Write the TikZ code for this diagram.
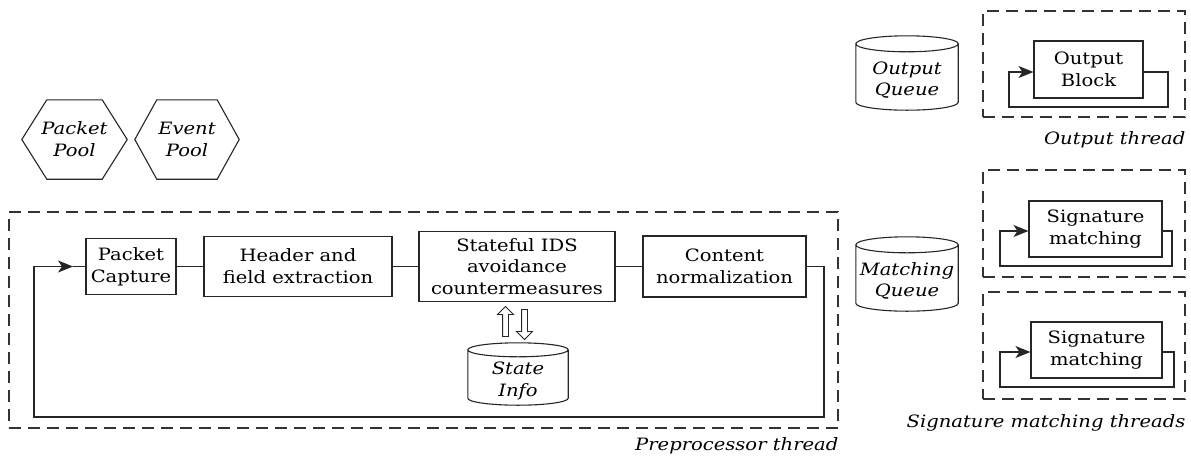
\documentclass[tikz,border=0pt]{standalone}
\usepackage{fontspec}
\setmainfont{DejaVu Serif}[FakeStretch=1.15]
\usetikzlibrary{arrows.meta,calc,shapes.arrows}

\tikzset{
  x=1pt, y=1pt,
  every node/.style={font=\fontsize{17}{21.7}\selectfont},
  wire/.style={line width=1.1pt, draw=black!85},
  blk/.style={draw=black!85, line width=1.1pt, inner sep=0pt, align=center},
  thread/.style={draw=black!80, line width=1.1pt, dash pattern=on 12pt off 7pt, inner sep=0pt},
  ital/.style={font=\fontsize{17}{21.7}\selectfont\itshape, align=center, inner sep=0pt},
  shell/.style={inner sep=0pt},
  hollow/.style={single arrow, draw=black!85, line width=0.9pt, fill=white,
    minimum width=15pt, minimum height=30pt, single arrow head extend=5pt,
    single arrow head indent=0pt, inner sep=2.5pt},
  tipfill/.style={-{Stealth[length=15pt,width=12pt,inset=4pt]}},
}

% outline of a storage drum drawn round a named node
\newcommand\drumoutline[2]{%
  \draw[wire] let \p1=(#1.north west), \p2=(#1.south east), \n1={(\x2-\x1)/2} in
    (\x1,{\y1-#2}) -- (\x1,{\y2+#2})
    arc[start angle=180, end angle=360, x radius=\n1, y radius=#2]
    -- (\x2,{\y1-#2})
    arc[start angle=0, end angle=360, x radius=\n1, y radius=#2];}

% outline of a flat-topped hexagon drawn round a named node
\newcommand\hexoutline[2]{%
  \draw[wire] (#1.west) -- ([xshift=#2]#1.north west) -- ([xshift=-#2]#1.north east)
    -- (#1.east) -- ([xshift=-#2]#1.south east) -- ([xshift=#2]#1.south west) -- cycle;}

\begin{document}
\begin{tikzpicture}
\useasboundingbox (0,0) rectangle (1191,-459);

% pools
\node[shell, minimum width=105pt, minimum height=79pt] (ppool) at (74.5,-139.5) {};
\hexoutline{ppool}{25pt}
\node[ital] (ppool-t) at (ppool.center) {Packet\\Pool};
\node[shell, minimum width=104pt, minimum height=79pt] (epool) at (187,-139.5) {};
\hexoutline{epool}{22pt}
\node[ital] (epool-t) at (epool.center) {Event\\Pool};

% preprocessor thread
\node[thread, minimum width=829pt, minimum height=216pt] (pp) at (423.5,-320) {};
\node[ital, anchor=east] (pp-l) at ([yshift=-17pt]pp.south east) {Preprocessor thread};

\node[blk, minimum width=90pt, minimum height=56pt] (cap) at (131,-266.5) {Packet\\Capture};
\node[blk, minimum width=188pt, minimum height=60pt] (hdr) at (298,-266.5) {Header and\\field extraction};
\node[blk, minimum width=196pt, minimum height=70pt] (ids) at (517,-266.5) {Stateful IDS\\avoidance\\countermeasures};
\node[blk, minimum width=163pt, minimum height=61pt] (norm) at (724.5,-266.5) {Content\\normalization};

\draw[wire] (cap.east) -- (hdr.west);
\draw[wire] (hdr.east) -- (ids.west);
\draw[wire] (ids.east) -- (norm.west);

\coordinate (pp-r) at (824,-417);
\coordinate (pp-l0) at (34,-417);
\coordinate (pp-in) at (73,-266.5);
\draw[wire, tipfill] (norm.east) -| (pp-r) -- (pp-l0) |- (pp-in);
\draw[wire] (pp-in) -- (cap.west);

% state store
\node[shell, minimum width=100pt, minimum height=62pt] (state) at (518,-374) {};
\drumoutline{state}{7pt}
\node[ital] (state-t) at ([yshift=-7pt]state.center) {State\\Info};

\node[hollow, shape border rotate=90] (up) at (505.5,-323) {};
\node[hollow, shape border rotate=270] (down) at (524.5,-323) {};

% queues
\node[shell, minimum width=102pt, minimum height=74pt] (oq) at (907,-73) {};
\drumoutline{oq}{8pt}
\node[ital] (oq-t) at ([yshift=-7pt]oq.center) {Output\\Queue};
\node[shell, minimum width=102pt, minimum height=74pt] (mq) at (907,-274) {};
\drumoutline{mq}{8pt}
\node[ital] (mq-t) at ([yshift=-7pt]mq.center) {Matching\\Queue};

% output thread
\node[thread, minimum width=202pt, minimum height=106pt] (ot) at (1084,-64) {};
\node[ital, anchor=east] (ot-l) at ([yshift=-22pt]ot.south east) {Output thread};
\node[blk, minimum width=109pt, minimum height=57pt] (ob) at (1088.5,-69.5) {Output\\Block};
\coordinate (ob-r) at (1168,-107);
\coordinate (ob-l) at (1009,-107);
\draw[wire, tipfill] ([yshift=-2.5pt]ob.east) -| (ob-r) -- (ob-l) |- ([yshift=-2.5pt]ob.west);

% signature matching threads
\node[thread, minimum width=202pt, minimum height=107pt] (st1) at (1084,-223.5) {};
\node[blk, minimum width=133pt, minimum height=56pt] (sm1) at (1095.5,-229) {Signature\\matching};
\coordinate (sm1-r) at (1172,-266);
\coordinate (sm1-l) at (1000,-266);
\draw[wire, tipfill] ([yshift=-2pt]sm1.east) -| (sm1-r) -- (sm1-l) |- ([yshift=-2pt]sm1.west);

\node[thread, minimum width=202pt, minimum height=107pt] (st2) at (1084,-345.5) {};
\node[ital, anchor=east] (st-l) at ([yshift=-23pt]st2.south east) {Signature matching threads};
\node[blk, minimum width=131pt, minimum height=56pt] (sm2) at (1096.5,-350) {Signature\\matching};
\coordinate (sm2-r) at (1174,-387);
\coordinate (sm2-l) at (1000,-387);
\draw[wire, tipfill] ([yshift=-2pt]sm2.east) -| (sm2-r) -- (sm2-l) |- ([yshift=-2pt]sm2.west);
\end{tikzpicture}
\end{document}
